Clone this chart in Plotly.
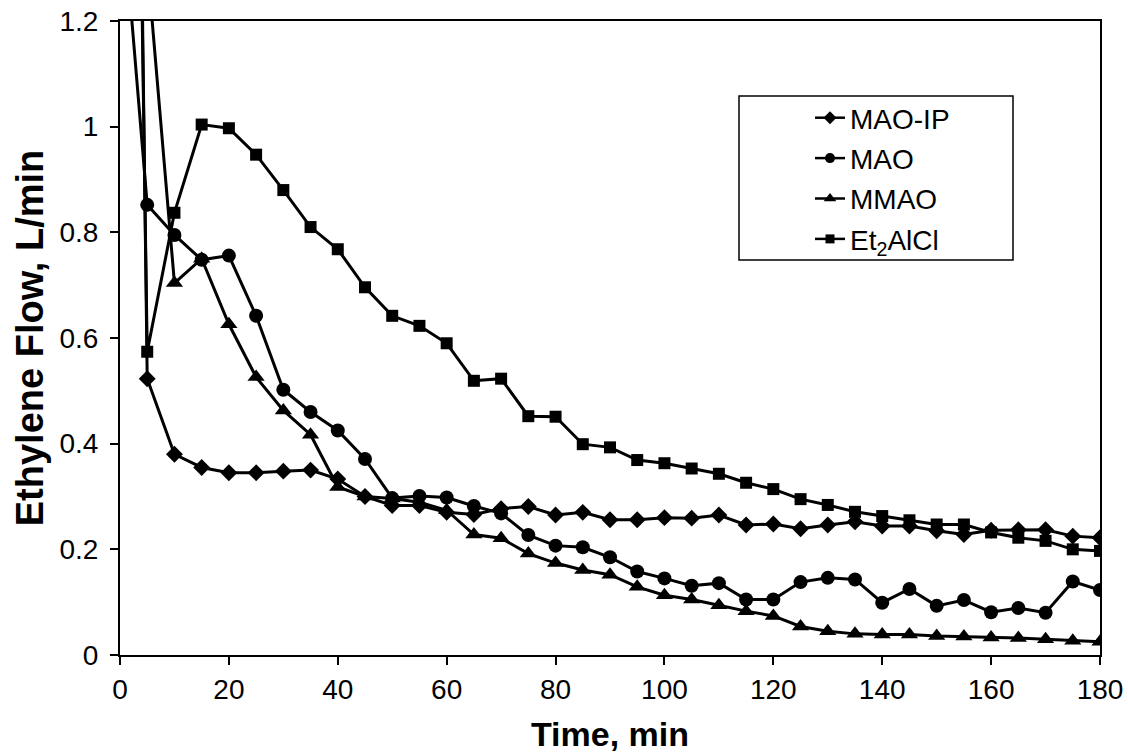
import plotly.graph_objects as go

time_min = [0, 5, 10, 15, 20, 25, 30, 35, 40, 45, 50, 55, 60, 65, 70, 75, 80, 85, 90,
            95, 100, 105, 110, 115, 120, 125, 130, 135, 140, 145, 150, 155, 160, 165,
            170, 175, 180]

mao_ip = [4.5, 0.523, 0.38, 0.355, 0.345, 0.345, 0.348, 0.35, 0.333, 0.30, 0.283, 0.283,
          0.27, 0.266, 0.277, 0.281, 0.265, 0.27, 0.256, 0.256, 0.26, 0.259, 0.265, 0.246,
          0.248, 0.239, 0.246, 0.252, 0.244, 0.244, 0.235, 0.228, 0.236, 0.237, 0.237,
          0.225, 0.222]

mao = [1.47, 0.852, 0.795, 0.748, 0.756, 0.642, 0.502, 0.46, 0.425, 0.371, 0.297, 0.301,
       0.298, 0.282, 0.268, 0.227, 0.207, 0.204, 0.185, 0.158, 0.145, 0.131, 0.136, 0.105,
       0.105, 0.138, 0.146, 0.143, 0.099, 0.125, 0.093, 0.104, 0.081, 0.089, 0.08, 0.139,
       0.123]

mmao = [2.0, 1.31, 0.704, 0.75, 0.626, 0.526, 0.463, 0.417, 0.318, 0.30, 0.296, 0.289,
        0.274, 0.228, 0.221, 0.192, 0.174, 0.161, 0.152, 0.129, 0.113, 0.105, 0.094, 0.083,
        0.074, 0.054, 0.045, 0.04, 0.039, 0.039, 0.036, 0.035, 0.033, 0.032, 0.03, 0.027,
        0.025]

et2alcl = [4.0, 0.574, 0.837, 1.004, 0.997, 0.947, 0.88, 0.81, 0.768, 0.696, 0.642, 0.623,
           0.59, 0.519, 0.523, 0.452, 0.451, 0.399, 0.393, 0.369, 0.363, 0.353, 0.343,
           0.326, 0.314, 0.295, 0.284, 0.271, 0.263, 0.255, 0.247, 0.247, 0.232, 0.222,
           0.216, 0.2, 0.197]

series_names = ["MAO-IP", "MAO", "MMAO", "Et<sub>2</sub>AlCl"]
series_values = [mao_ip, mao, mmao, et2alcl]
series_symbols = ["diamond", "circle", "triangle-up", "square"]
series_sizes = [13, 14, 15, 12]
legend_sizes = [10, 10, 11, 9]

x_ticks = [0, 20, 40, 60, 80, 100, 120, 140, 160, 180]
y_ticks = [0, 0.2, 0.4, 0.6, 0.8, 1.0, 1.2]
y_tick_labels = ["0", "0.2", "0.4", "0.6", "0.8", "1", "1.2"]

FONT = "Liberation Sans, Arial, sans-serif"

# plot area in pixels
L, R, T, B = 120, 1100, 21, 655
def px_x(p):
    return (p - L) / (R - L)
def px_y(p):
    return 1 - (p - T) / (B - T)

fig = go.Figure()
for i, (name, vals, sym, sz) in enumerate(zip(series_names, series_values, series_symbols, series_sizes)):
    fig.add_trace(go.Scatter(
        x=time_min, y=vals, name=name, mode="lines+markers",
        line=dict(color="black", width=3),
        marker=dict(symbol=sym, size=sz, color="black"),
        showlegend=False,
        cliponaxis=True,
    ))
# legend entries with smaller markers (as in the reference legend)
for i, (name, sym, sz) in enumerate(zip(series_names, series_symbols, legend_sizes)):
    fig.add_trace(go.Scatter(
        x=[None], y=[None], name=name, mode="lines+markers",
        line=dict(color="black", width=2.5),
        marker=dict(symbol=sym, size=sz, color="black"),
        legendgroup=f"g{i}", showlegend=True,
    ))

# legend frame
fig.add_shape(type="rect", xref="paper", yref="paper",
              x0=px_x(739), x1=px_x(1013), y0=px_y(260), y1=px_y(96),
              line=dict(color="black", width=1.5), fillcolor="white", layer="below")

fig.update_layout(
    width=1128, height=753,
    margin=dict(l=L, r=1128 - R, t=T, b=753 - B, autoexpand=False),
    paper_bgcolor="white", plot_bgcolor="rgba(0,0,0,0)",
    font=dict(family=FONT, color="black", size=28),
    showlegend=True,
    legend=dict(
        x=px_x(810), y=px_y(93),
        xanchor="left", yanchor="top",
        bgcolor="rgba(0,0,0,0)", borderwidth=0,
        font=dict(family=FONT, size=28, color="black"),
        tracegroupgap=1,
    ),
    xaxis=dict(
        range=[0, 180], tickvals=x_ticks, ticks="outside", ticklen=8, tickwidth=1.5,
        tickcolor="black", showline=True, linecolor="black", linewidth=2, mirror=True,
        showgrid=False, zeroline=False, automargin=False,
        tickfont=dict(size=28, family=FONT),
        title=dict(text="<b>Time, min</b>", font=dict(size=34, family=FONT), standoff=19),
    ),
    yaxis=dict(
        range=[0, 1.2], tickvals=y_ticks, ticktext=y_tick_labels, ticks="outside",
        ticklen=8, tickwidth=1.5, tickcolor="black", showline=True, linecolor="black",
        linewidth=2, mirror=True, showgrid=False, zeroline=False, automargin=False,
        ticklabelstandoff=6,
        tickfont=dict(size=28, family=FONT),
        title=dict(text="<b>Ethylene Flow, L/min</b>", font=dict(size=38, family=FONT), standoff=4),
    ),
)

fig.write_html("out.html")
